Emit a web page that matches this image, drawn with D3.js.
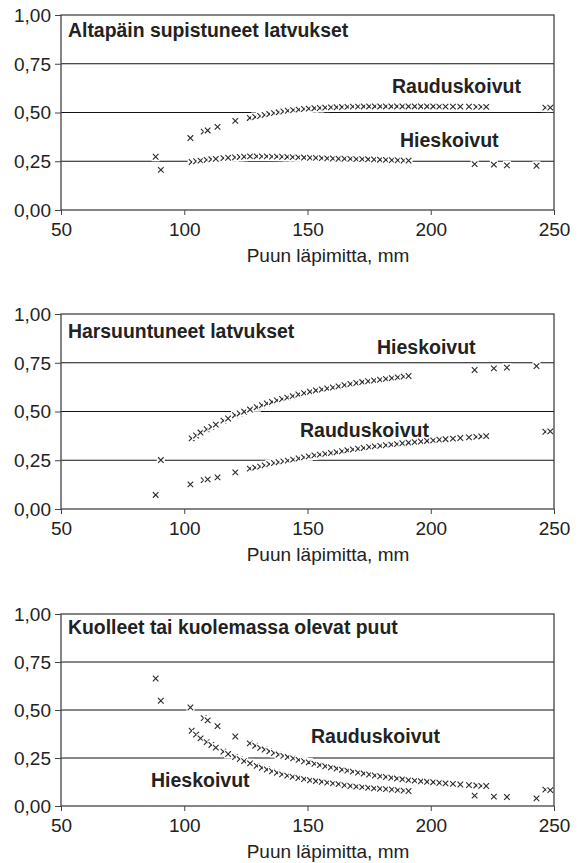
<!DOCTYPE html>
<html>
<head>
<meta charset="utf-8">
<script src="https://cdn.jsdelivr.net/npm/d3@7"></script>
<style>
  body { margin: 0; background: #fff; }
  svg text { font-family: "Liberation Sans", Arial, sans-serif; fill: #222; }
  .tick line { stroke: #444; }
</style>
</head>
<body>
<div id="plot"></div>
<script>
// Diameter (mm) of each class, birch species
var diamRaudus = [88.4, 102.5, 107.9, 109.5, 113.5, 120.7, 126.6, 128.8, 130.8, 132.6, 134.5, 136.4, 138.3, 140.2, 142.0,
  144.2, 146.4, 148.6, 150.5, 152.8, 155.0, 157.2, 159.5, 161.8, 164.0, 166.2, 168.4, 170.5, 172.8, 175.0, 177.3,
  179.5, 181.8, 184.0, 186.3, 188.5, 191.0, 193.5, 196.0, 198.5, 201.0, 203.5, 206.0, 209.0, 212.0, 215.5, 218.5,
  220.5, 222.5, 246.5, 248.5];
var diamHies = [90.5, 103.0, 104.8, 106.6, 109.1, 111.0, 112.8, 115.9, 117.8, 120.6, 122.5, 124.3, 126.7, 129.4, 131.5,
  133.5, 135.6, 137.6, 139.7, 141.8, 144.0, 146.3, 148.6, 151.0, 153.4, 155.8, 158.0, 160.3, 162.6, 165.0, 167.4,
  169.8, 172.2, 174.6, 177.0, 179.4, 181.8, 184.2, 186.6, 189.0, 191.0, 217.8, 225.6, 230.9, 242.9];

// Altapäin supistuneet latvukset
var raudusSupistuneet = [0.273, 0.369, 0.402, 0.408, 0.426, 0.457, 0.472, 0.477, 0.482, 0.487, 0.492, 0.497, 0.501, 0.505, 0.509,
  0.512, 0.515, 0.518, 0.520, 0.522, 0.523, 0.525, 0.526, 0.527, 0.528, 0.529, 0.530, 0.530, 0.531, 0.531, 0.531,
  0.531, 0.531, 0.531, 0.531, 0.531, 0.531, 0.531, 0.531, 0.531, 0.531, 0.530, 0.530, 0.530, 0.530, 0.530, 0.529,
  0.529, 0.529, 0.525, 0.525];
var hiesSupistuneet = [0.206, 0.246, 0.250, 0.253, 0.257, 0.260, 0.262, 0.266, 0.268, 0.270, 0.272, 0.273, 0.275, 0.275, 0.275,
  0.275, 0.274, 0.274, 0.273, 0.272, 0.271, 0.270, 0.269, 0.268, 0.267, 0.266, 0.265, 0.264, 0.263, 0.263, 0.262,
  0.261, 0.261, 0.260, 0.259, 0.258, 0.257, 0.256, 0.255, 0.254, 0.253, 0.235, 0.233, 0.229, 0.227];

// Harsuuntuneet latvukset
var raudusHarsuuntuneet = [0.072, 0.126, 0.148, 0.152, 0.162, 0.188, 0.207, 0.212, 0.217, 0.224, 0.230, 0.236, 0.240, 0.244, 0.248,
  0.253, 0.259, 0.265, 0.270, 0.275, 0.279, 0.283, 0.287, 0.291, 0.296, 0.301, 0.305, 0.309, 0.313, 0.318, 0.321,
  0.324, 0.327, 0.330, 0.333, 0.337, 0.340, 0.343, 0.346, 0.349, 0.352, 0.355, 0.358, 0.361, 0.364, 0.367, 0.370,
  0.372, 0.374, 0.396, 0.398];
var hiesHarsuuntuneet = [0.251, 0.362, 0.377, 0.392, 0.409, 0.421, 0.433, 0.453, 0.464, 0.481, 0.490, 0.499, 0.510, 0.522, 0.532,
  0.541, 0.549, 0.557, 0.564, 0.571, 0.579, 0.587, 0.594, 0.601, 0.608, 0.613, 0.618, 0.623, 0.629, 0.635, 0.641,
  0.646, 0.651, 0.655, 0.659, 0.663, 0.667, 0.671, 0.675, 0.679, 0.682, 0.713, 0.721, 0.725, 0.733];

// Kuolleet tai kuolemassa olevat puut
var raudusKuolleet = [0.664, 0.513, 0.458, 0.446, 0.416, 0.362, 0.326, 0.314, 0.303, 0.294, 0.285, 0.276, 0.268, 0.261, 0.255,
  0.248, 0.240, 0.233, 0.227, 0.220, 0.213, 0.207, 0.201, 0.195, 0.189, 0.184, 0.179, 0.174, 0.169, 0.164, 0.159,
  0.155, 0.151, 0.147, 0.143, 0.139, 0.135, 0.132, 0.129, 0.126, 0.124, 0.121, 0.118, 0.115, 0.112, 0.109, 0.107,
  0.105, 0.104, 0.085, 0.083];
var hiesKuolleet = [0.548, 0.392, 0.372, 0.352, 0.333, 0.318, 0.304, 0.283, 0.271, 0.255, 0.244, 0.234, 0.222, 0.209, 0.199,
  0.190, 0.181, 0.173, 0.165, 0.158, 0.152, 0.146, 0.140, 0.134, 0.130, 0.126, 0.122, 0.118, 0.114, 0.108, 0.104,
  0.101, 0.098, 0.095, 0.092, 0.090, 0.088, 0.086, 0.083, 0.080, 0.078, 0.054, 0.049, 0.047, 0.040];

var yTicks = [0, 0.25, 0.5, 0.75, 1];
var yTickLabels = ["0,00", "0,25", "0,50", "0,75", "1,00"];
var xTicks = [50, 100, 150, 200, 250];
var xTitle = "Puun läpimitta, mm";

var svgWidth = 583;
var svgHeight = 863;
var left = 61, right = 554;

var svg = d3.select("#plot")
  .append("svg")
  .attr("width", svgWidth)
  .attr("height", svgHeight);

var xScale = d3.scaleLinear().domain([50, 250]).range([left, right]);

// one entry per panel: title, series and where their labels sit
var panels = [
  { top: 15, bottom: 210, title: "Altapäin supistuneet latvukset", titleY: 37,
    raudus: raudusSupistuneet, hies: hiesSupistuneet,
    raudusLabel: [392, 93], hiesLabel: [400, 146.5] },
  { top: 314, bottom: 509, title: "Harsuuntuneet latvukset", titleY: 337.5,
    raudus: raudusHarsuuntuneet, hies: hiesHarsuuntuneet,
    raudusLabel: [300, 437], hiesLabel: [377, 354] },
  { top: 614, bottom: 806, title: "Kuolleet tai kuolemassa olevat puut", titleY: 633.5,
    raudus: raudusKuolleet, hies: hiesKuolleet,
    raudusLabel: [311, 742.5], hiesLabel: [151, 787] }
];

panels.forEach(function(p) {
  var yScale = d3.scaleLinear().domain([0, 1]).range([p.bottom, p.top]);
  var g = svg.append("g");

  // gridlines
  g.selectAll(".grid")
    .data(yTicks.slice(1, 4))
    .enter()
    .append("line")
    .attr("x1", left)
    .attr("x2", right)
    .attr("y1", d => yScale(d))
    .attr("y2", d => yScale(d))
    .attr("stroke", "#111")
    .attr("stroke-width", 1.2);

  // markers: white box + cross, later ones cover earlier ones
  var points = [];
  diamHies.forEach((d, i) => points.push({ x: d, y: p.hies[i] }));
  diamRaudus.forEach((d, i) => points.push({ x: d, y: p.raudus[i] }));
  points.sort((a, b) => a.x - b.x);

  var marks = g.selectAll(".mark")
    .data(points)
    .enter()
    .append("g")
    .attr("transform", d => `translate(${xScale(d.x)}, ${yScale(d.y)})`);
  marks.append("rect")
    .attr("x", -4).attr("y", -4.5)
    .attr("width", 8).attr("height", 9)
    .attr("fill", "#fff");
  marks.append("path")
    .attr("d", "M-2.8,-2.8L2.8,2.8M-2.8,2.8L2.8,-2.8")
    .attr("stroke", "#2a2a2a")
    .attr("stroke-width", 1.1);

  // border
  g.append("rect")
    .attr("x", left).attr("y", p.top)
    .attr("width", right - left).attr("height", p.bottom - p.top)
    .attr("fill", "none")
    .attr("stroke", "#444")
    .attr("stroke-width", 1.3);

  // axes
  var leftAxis = d3.axisLeft(yScale)
    .tickValues(yTicks)
    .tickFormat((d, i) => yTickLabels[i])
    .tickSize(6)
    .tickPadding(4);
  var yAxis = g.append("g")
    .attr("transform", `translate(${left}, 0)`)
    .call(leftAxis);
  yAxis.select(".domain").remove();
  yAxis.selectAll("text").attr("font-size", "19px").attr("dy", "0.34em");

  var bottomAxis = d3.axisBottom(xScale)
    .tickValues(xTicks)
    .tickFormat(d3.format("d"))
    .tickSize(5)
    .tickPadding(7);
  var xAxis = g.append("g")
    .attr("transform", `translate(0, ${p.bottom})`)
    .call(bottomAxis);
  xAxis.select(".domain").remove();
  xAxis.selectAll("text").attr("font-size", "19px").attr("dy", "0.72em");

  // texts
  g.append("text")
    .attr("x", 68)
    .attr("y", p.titleY)
    .attr("font-size", "19.4px")
    .attr("font-weight", "bold")
    .text(p.title);

  g.append("text")
    .attr("x", p.raudusLabel[0])
    .attr("y", p.raudusLabel[1])
    .attr("font-size", "19.5px")
    .attr("font-weight", "bold")
    .text("Rauduskoivut");

  g.append("text")
    .attr("x", p.hiesLabel[0])
    .attr("y", p.hiesLabel[1])
    .attr("font-size", "19.5px")
    .attr("font-weight", "bold")
    .text("Hieskoivut");

  g.append("text")
    .attr("x", 328)
    .attr("y", p.bottom + 51.5)
    .attr("text-anchor", "middle")
    .attr("font-size", "19px")
    .text(xTitle);
});
</script>
</body>
</html>
